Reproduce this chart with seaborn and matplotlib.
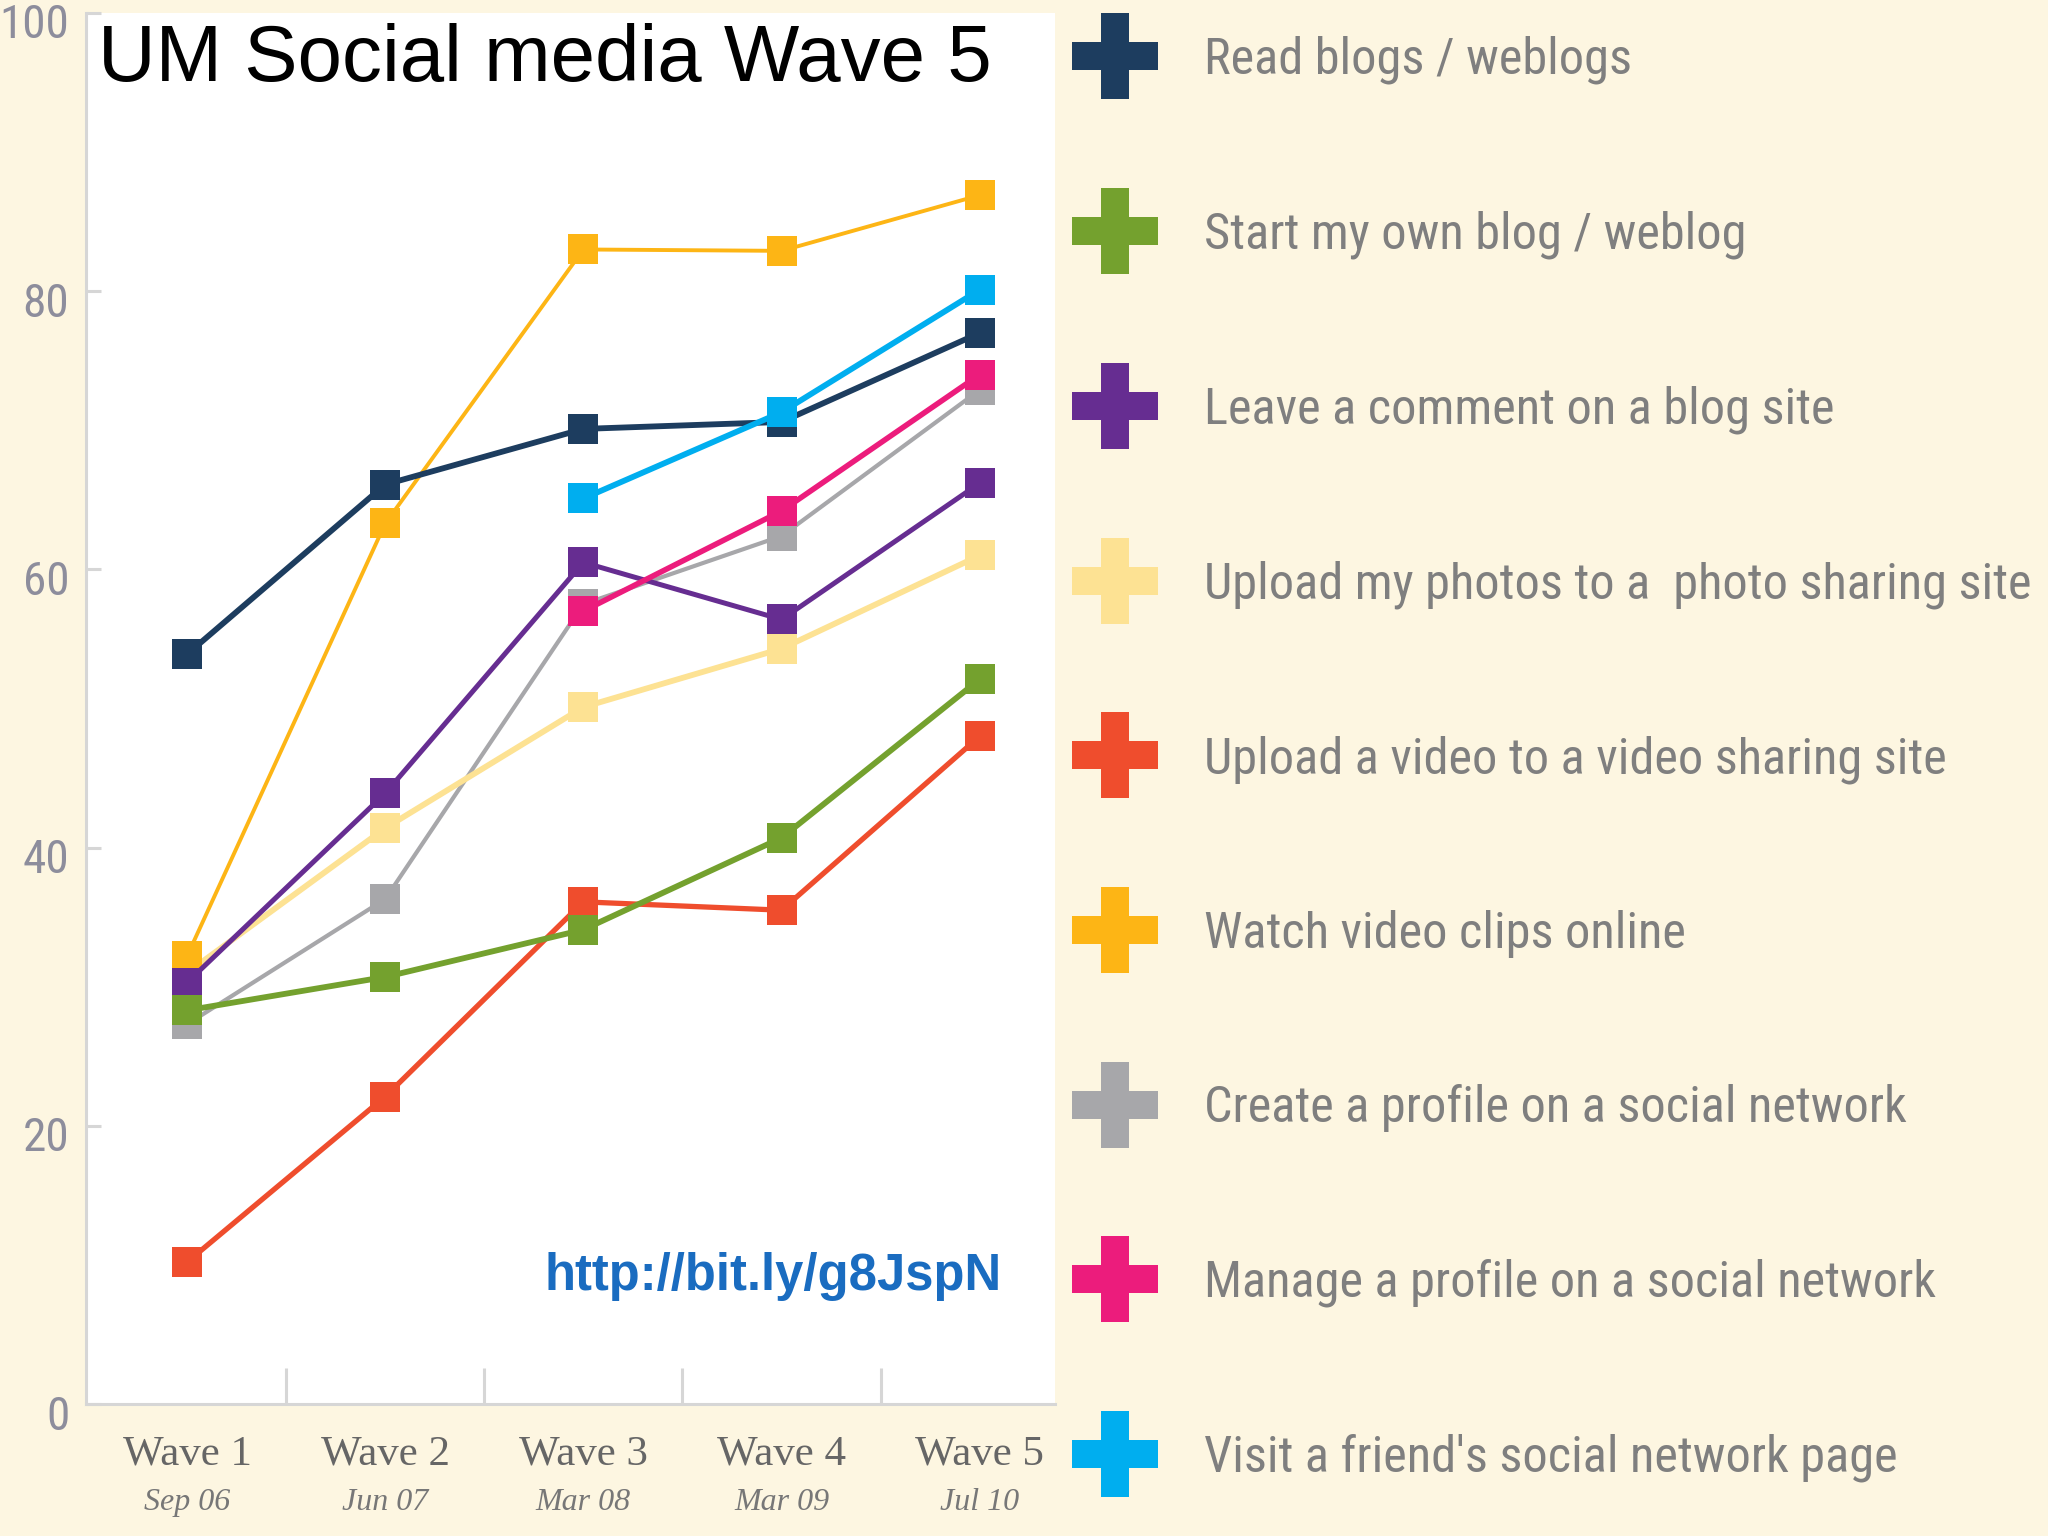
import numpy as np
import pandas as pd
import matplotlib
matplotlib.use("Agg")
import matplotlib.pyplot as plt
import matplotlib.transforms as mtrans
from matplotlib.lines import Line2D
from matplotlib import font_manager as fm
import seaborn as sns

# ---------------- data ----------------
waves = ["Wave 1", "Wave 2", "Wave 3", "Wave 4", "Wave 5"]
dates = ["Sep 06", "Jun 07", "Mar 08", "Mar 09", "Jul 10"]
y_ticks = [0, 20, 40, 60, 80, 100]

legend_names = [
    "Read blogs / weblogs",
    "Start my own blog / weblog",
    "Leave a comment on a blog site",
    "Upload my photos to a  photo sharing site",
    "Upload a video to a video sharing site",
    "Watch video clips online",
    "Create a profile on a social network",
    "Manage a profile on a social network",
    "Visit a friend's social network page",
]

read_blogs = [53.9, 66.1, 70.1, 70.6, 77.0]
start_blog = [28.3, 30.7, 34.1, 40.7, 52.1]
leave_comment = [30.3, 43.9, 60.5, 56.4, 66.2]
upload_photos = [31.0, 41.4, 50.1, 54.3, 61.0]
upload_video = [10.2, 22.1, 36.1, 35.5, 48.0]
watch_video = [32.2, 63.3, 83.0, 82.9, 86.9]
create_profile = [27.3, 36.3, 57.5, 62.4, 72.9]
manage_profile = [None, None, 57.0, 64.2, 74.0]
visit_friend = [None, None, 65.1, 71.3, 80.1]

series_values = [read_blogs, start_blog, leave_comment, upload_photos,
                 upload_video, watch_video, create_profile, manage_profile,
                 visit_friend]

colors = ["#1d3d5f", "#74a12e", "#662d91", "#fde293", "#ef4d2d",
          "#fdb515", "#a7a7aa", "#ec1c7c", "#00aeef"]
line_widths = [4.2, 4.2, 3.6, 4.2, 3.8, 2.8, 3.0, 4.0, 4.2]
draw_order = [6, 3, 5, 4, 2, 1, 7, 0, 8]

rows = []
for name, vals in zip(legend_names, series_values):
    for i, v in enumerate(vals):
        if v is not None:
            rows.append({"series": name, "x": i, "value": v})
df = pd.DataFrame(rows)

# ---------------- condensed font lookup ----------------
names = {f.name for f in fm.fontManager.ttflist}
cond_props = None
for cand in ["Liberation Sans Narrow", "Roboto Condensed", "Open Sans Condensed",
             "DejaVu Sans Condensed", "Noto Sans Condensed", "Arial Narrow"]:
    if cand in names:
        cond_props = {"family": cand}
        break
if cond_props is None:
    for f in fm.fontManager.ttflist:
        if f.name in ("DejaVu Sans", "Noto Sans", "Roboto", "Open Sans") and \
                "condensed" in str(f.stretch) and str(f.style) == "normal":
            cond_props = {"family": f.name, "stretch": f.stretch}
            break
if cond_props is None:
    cond_props = {"family": "DejaVu Sans"}


def cprops(size):
    return fm.FontProperties(size=size, **cond_props)


# ---------------- figure ----------------
bg = "#fdf6e1"
fig = plt.figure(figsize=(20.48, 15.36), dpi=100, facecolor=bg)
ax = fig.add_axes([86 / 2048, 1 - 1404 / 1536, (1055 - 86) / 2048, (1404 - 13) / 1536])
ax.set_facecolor("white")

for z, idx in enumerate(draw_order):
    name = legend_names[idx]
    sub = df[df["series"] == name]
    sns.lineplot(data=sub, x="x", y="value", color=colors[idx], marker="s",
                 markersize=22, markeredgewidth=0, linewidth=line_widths[idx],
                 ax=ax, legend=False, zorder=3 + z)

ax.set_xlim(-0.51, 4.38)
ax.set_ylim(0, 100)
ax.set_xlabel("")
ax.set_ylabel("")

for s in ["top", "right"]:
    ax.spines[s].set_visible(False)
for s in ["left", "bottom"]:
    ax.spines[s].set_color("#d6d6d6")
    ax.spines[s].set_linewidth(2.2)

# y axis
ax.set_yticks(y_ticks)
ylabels = ax.set_yticklabels([str(t) for t in y_ticks], color="#8d8d9c")
for t in ylabels:
    t.set_fontproperties(cprops(30))
ax.tick_params(axis="y", direction="in", length=11, width=2.2, color="#d6d6d6", pad=12)

# x axis
ax.set_xticks(range(len(waves)))
ax.set_xticklabels(waves, family=["Liberation Serif", "DejaVu Serif"], fontsize=31,
                   color="#666666")
ax.tick_params(axis="x", which="major", length=0, pad=22)
ax.set_xticks([i + 0.5 for i in range(len(waves) - 1)], minor=True)
ax.tick_params(axis="x", which="minor", direction="in", length=26, width=2.2, color="#d6d6d6")

trans = mtrans.blended_transform_factory(ax.transData, ax.transAxes)
for i, d in enumerate(dates):
    ax.text(i, -0.071, d, transform=trans, ha="center", va="center",
            family=["Liberation Serif", "DejaVu Serif"], style="italic",
            fontsize=23, color="#777777")

# title and url
fig.text(98 / 2048, 0.985, "UM Social media Wave 5", ha="left", va="top",
         family=["Liberation Sans", "DejaVu Sans"], fontsize=57.5, color="black")
ax.text(0.945, 0.092, "http://bit.ly/g8JspN", transform=ax.transAxes, ha="right",
        va="center", family=["Liberation Sans", "DejaVu Sans"], fontweight="bold",
        fontsize=36.5, color="#1a6cc0")

# ---------------- fit y tick labels ----------------
fig.canvas.draw()
r = fig.canvas.get_renderer()
wmax = max(t.get_window_extent(r).width for t in ax.get_yticklabels())
ysize = min(34, 30 * 70 / wmax)
shift = mtrans.ScaledTranslation(0, -8 / 100, fig.dpi_scale_trans)
for t in ax.get_yticklabels():
    t.set_fontproperties(cprops(ysize))
    t.set_transform(t.get_transform() + shift)

# ---------------- legend ----------------
handles = [Line2D([], [], marker="P", linestyle="none", color=c, markersize=62,
                  markeredgewidth=0) for c in colors]
H = 1536.0
marker_cx = 1115.0
text_x = 1204.0
target_first = 60.0
target_pitch = 174.7


def make_legend(fs, ls, top_px):
    fs_px = fs * 100 / 72
    hl = 90.0 / fs_px
    htp = (text_x - (marker_cx + 45)) / fs_px
    leg = fig.legend(handles, legend_names, loc="upper left",
                     bbox_to_anchor=((marker_cx - 45) / 2048, 1 - top_px / H),
                     frameon=False, handlelength=hl, handletextpad=htp,
                     labelspacing=ls, borderpad=0, borderaxespad=0,
                     prop=cprops(fs))
    for t in leg.get_texts():
        t.set_color("#7f7f7f")
    return leg


fs = 38.0
ls = 2.2
top = 32.0
leg = make_legend(fs, ls, top)
fig.canvas.draw()
widths = [t.get_window_extent(r).width for t in leg.get_texts()]
fs = min(40.0, fs * 827.0 / max(widths))
leg.remove()
leg = make_legend(fs, ls, top)
for _ in range(3):
    fig.canvas.draw()
    ext = [t.get_window_extent(r) for t in leg.get_texts()]
    centers = [H - (e.y0 + e.y1) / 2 for e in ext]
    pitch = (centers[-1] - centers[0]) / (len(centers) - 1)
    fs_px = fs * 100 / 72
    ls = ls + (target_pitch - pitch) / fs_px
    top = top + (target_first - centers[0])
    leg.remove()
    leg = make_legend(fs, ls, top)

fig.savefig("out.png", dpi=100, facecolor=bg)
